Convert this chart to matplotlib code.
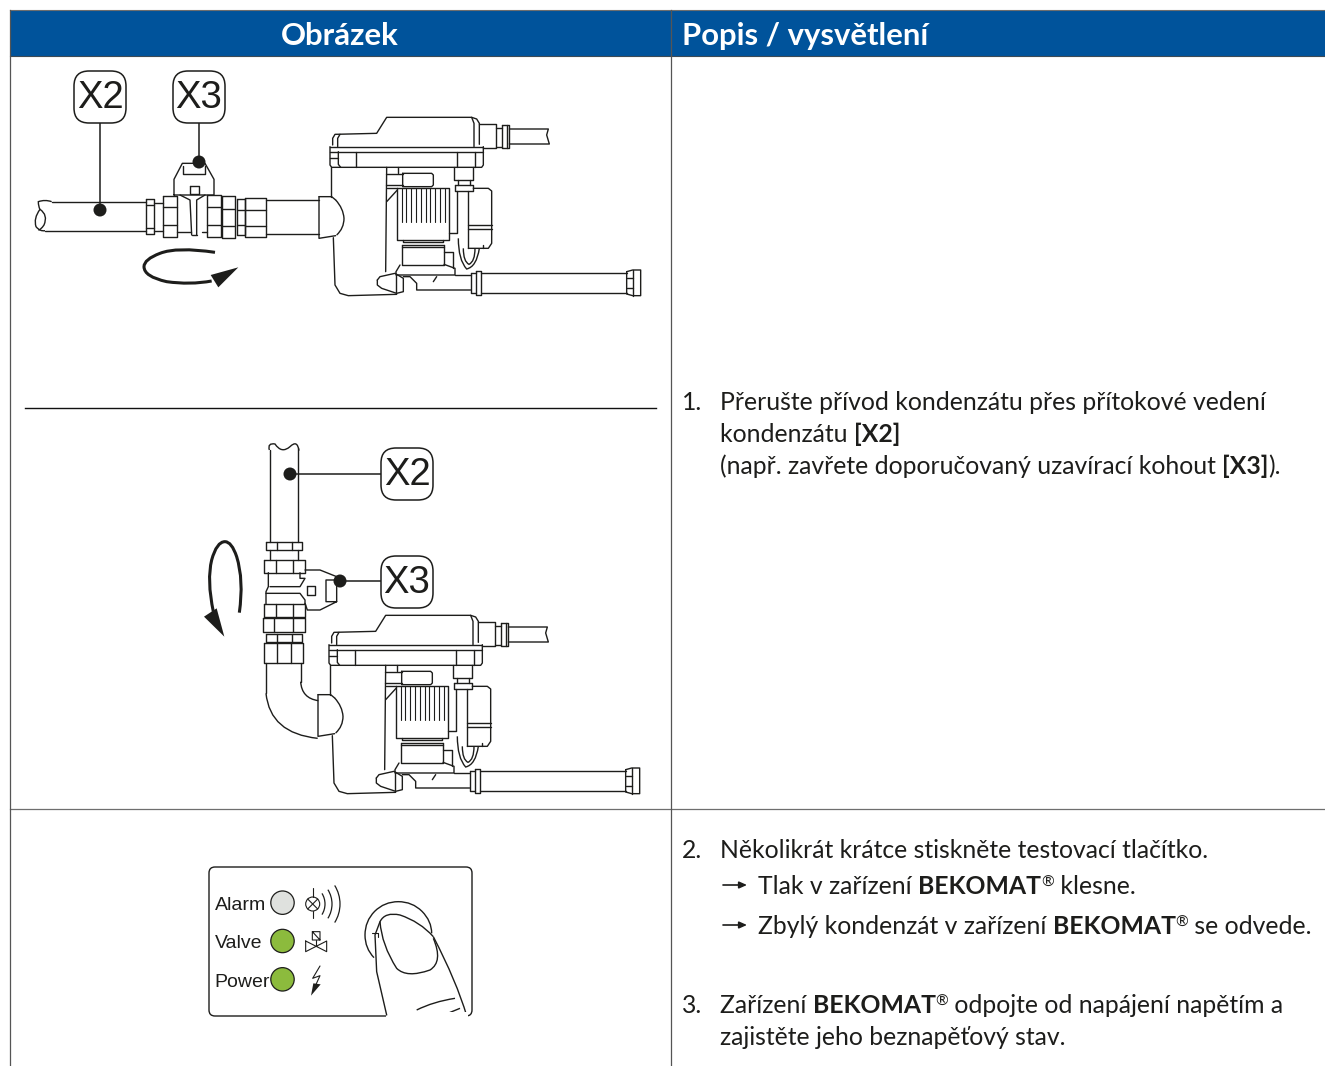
import matplotlib
matplotlib.use('Agg')
from matplotlib import pyplot as plt
from matplotlib.patches import Circle, Arc, FancyBboxPatch, Polygon, Rectangle, PathPatch
from matplotlib.path import Path

W, H = 1325, 1066
BLUE = '#00539b'
INK = '#1d1d1b'
GREEN = '#8cbb3d'
GREY_LED = '#dfe1de'
BODY_FONT = 'Lato'
BODY_SIZE = 17.85

HEADERS = ['Obrázek', 'Popis / vysvětlení']
LED_LABELS = ['Alarm', 'Valve', 'Power']
LED_COLORS = [GREY_LED, GREEN, GREEN]
LED_ROWS = [143, 258, 373]

# text runs: (x, baseline, [(string, bold), ...])
TEXT_LINES = [
	(682, 410, [('1.', False)]),
	(720, 410, [('Přerušte přívod kondenzátu přes přítokové vedení', False)]),
	(720, 442, [('kondenzátu ', False), ('[X2]', True)]),
	(720, 474, [('(např. zavřete doporučovaný uzavírací kohout ', False), ('[X3]', True), (').', False)]),
	(682, 858, [('2.', False)]),
	(720, 858, [('Několikrát krátce stiskněte testovací tlačítko.', False)]),
	(758, 894, [('Tlak v zařízení ', False), ('BEKOMAT', True), ('®', None), (' klesne.', False)]),
	(758, 934, [('Zbylý kondenzát v zařízení ', False), ('BEKOMAT', True), ('®', None), (' se odvede.', False)]),
	(682, 1013, [('3.', False)]),
	(720, 1013, [('Zařízení ', False), ('BEKOMAT', True), ('®', None), (' odpojte od napájení napětím a', False)]),
	(720, 1045, [('zajistěte jeho beznapěťový stav.', False)]),
]
ARROW_ROWS = [885, 925]

# device outline, measured in a 3x crop with origin (320, 105)
DEVICE_LINES = [
	[(38, 120), (38, 100), (45, 88), (170, 85), (200, 37), (455, 37), (470, 42), (478, 55), (478, 118)],
	[(60, 88), (53, 100), (53, 125)],
	[(455, 37), (462, 55), (462, 125)],
	[(30, 125), (490, 125)],
	[(30, 140), (490, 140)],
	[(30, 125), (30, 180), (35, 187), (485, 187), (490, 180), (490, 125)],
	[(55, 140), (55, 178), (62, 187)],
	[(465, 140), (465, 187)],
	[(107, 140), (107, 187)],
	[(410, 140), (410, 187)],
	[(30, 160), (55, 160)],
	[(478, 58), (528, 58), (528, 130), (490, 130)],
	[(528, 68), (545, 68)],
	[(528, 125), (545, 125)],
	[(545, 60), (568, 60), (568, 130), (545, 130), (545, 60)],
	[(560, 60), (560, 130)],
	[(568, 72), (685, 72), (680, 90), (688, 117), (568, 117)],
	[(32, 187), (32, 275)],
	[(-3, 275), (35, 275), (47, 285)],
	[(-3, 275), (-3, 400), (47, 392)],
	[(40, 398), (45, 540), (60, 565), (85, 572), (230, 568)],
	[(232, 248), (388, 248), (388, 405), (232, 405), (232, 248)],
	[(232, 255), (200, 290)],
	[(200, 250), (232, 250)],
	[(200, 187), (197, 500)],
	[(248, 205), (335, 205), (340, 210), (340, 240), (335, 245), (248, 245), (248, 205)],
	[(197, 207), (248, 207)],
	[(197, 240), (248, 240)],
	[(235, 187), (235, 205)],
	[(250, 405), (250, 412), (370, 412), (370, 405)],
	[(245, 420), (372, 420)],
	[(245, 425), (372, 425)],
	[(245, 420), (245, 480), (372, 480), (372, 420)],
	[(240, 480), (228, 500), (228, 510), (405, 510), (405, 490), (372, 478)],
	[(372, 440), (400, 440), (400, 490)],
	[(172, 525), (180, 515), (225, 505), (250, 520), (250, 560), (230, 565), (185, 550), (172, 540), (172, 525)],
	[(228, 510), (228, 565)],
	[(250, 515), (270, 515), (290, 535), (290, 555), (452, 555)],
	[(340, 530), (350, 515)],
	[(405, 510), (452, 510)],
	[(402, 187), (402, 225), (460, 225), (460, 187)],
	[(405, 240), (460, 240), (460, 258), (405, 258), (405, 240)],
	[(415, 225), (415, 240)],
	[(450, 225), (450, 240)],
	[(410, 258), (410, 385), (388, 385)],
	[(460, 250), (505, 250), (515, 258), (515, 415), (505, 430), (445, 430)],
	[(445, 360), (515, 360)],
	[(445, 372), (515, 372)],
	[(445, 258), (445, 430)],
	[(488, 420), (488, 430)],
	[(452, 505), (468, 505)],
	[(452, 505), (452, 565), (468, 565)],
	[(468, 497), (482, 497), (482, 570), (468, 570), (468, 497)],
	[(482, 505), (920, 505)],
	[(482, 563), (920, 563)],
	[(920, 500), (938, 495), (962, 495), (962, 572), (938, 572), (920, 567), (920, 500)],
	[(938, 495), (938, 572)],
	[(920, 520), (938, 520)],
	[(920, 550), (938, 550)],
]
DEVICE_FINS = [245, 259, 274, 288, 303, 317, 331, 346, 360, 374]
# quadratic runs: start, then control/end pairs
DEVICE_CURVES = [
	[(415, 400), (415, 465), (440, 492), (470, 485), (478, 430)],
	[(430, 430), (430, 470), (447, 478), (465, 470), (465, 430)],
	[(47, 285), (70, 310), (72, 340), (72, 370), (50, 390)],
]

# first valve group, 3x crop with origin (20, 60)
TOP_RECTS = [(378, 418, 402, 522), (430, 408, 470, 530), (510, 378, 537, 403), (562, 405, 603, 530),
	(605, 408, 645, 533), (650, 417, 675, 525), (675, 413, 738, 532)]
TOP_LINES = [
	[(95, 425), (378, 425)],
	[(75, 512), (378, 512)],
	[(378, 435), (402, 435)], [(378, 503), (402, 503)],
	[(402, 428), (430, 428)], [(402, 512), (430, 512)],
	[(430, 440), (470, 440)], [(430, 495), (470, 495)],
	[(470, 515), (512, 515)],
	[(480, 405), (510, 420), (515, 525)],
	[(555, 405), (530, 420), (530, 525)],
	[(515, 525), (530, 525)],
	[(545, 515), (562, 515)],
	[(462, 405), (462, 358), (487, 310), (555, 310), (582, 358), (582, 405), (462, 405)],
	[(490, 318), (490, 342), (555, 342), (555, 318)],
	[(562, 440), (603, 440)], [(562, 495), (603, 495)],
	[(605, 447), (645, 447)], [(605, 497), (645, 497)],
	[(650, 450), (675, 450)], [(650, 495), (675, 495)],
	[(675, 450), (738, 450)], [(675, 497), (738, 497)],
	[(738, 420), (897, 420)],
	[(738, 522), (897, 522)],
]
TOP_CURVES = [
	[(95, 425), (75, 418), (55, 425), (55, 440), (60, 448), (40, 475), (48, 500), (60, 515), (75, 512)],
	[(60, 448), (85, 465), (72, 495), (62, 510), (55, 510)],
	[(585, 577), (470, 560), (420, 580), (372, 598), (372, 620), (372, 650), (440, 665), (510, 675), (575, 663)],
]
TOP_ARROW_HEAD = [(655, 622), (595, 682), (572, 645)]

# second valve group, 3x crop with origin (190, 430)
LOW_RECTS = [(228, 337, 335, 360), (222, 390, 345, 428), (222, 522, 345, 560), (218, 565, 345, 607),
	(227, 612, 337, 637), (222, 640, 340, 700), (350, 468, 375, 495)]
LOW_LINES = [
	[(240, 60), (240, 337)],
	[(325, 55), (325, 337)],
	[(260, 337), (260, 360)], [(305, 337), (305, 360)],
	[(240, 360), (240, 390)], [(325, 360), (325, 390)],
	[(257, 390), (257, 428)], [(310, 390), (310, 428)],
	[(235, 428), (235, 470), (228, 485), (228, 522)],
	[(330, 428), (330, 445), (345, 445), (330, 470), (240, 470)],
	[(228, 490), (330, 490), (345, 510), (345, 522)],
	[(345, 420), (390, 420), (440, 440)],
	[(345, 520), (352, 540), (390, 540), (440, 515), (440, 450), (408, 450), (408, 515), (440, 515)],
	[(257, 522), (257, 560)], [(310, 522), (310, 560)],
	[(253, 565), (253, 607)], [(308, 565), (308, 607)],
	[(260, 612), (260, 637)], [(305, 612), (305, 637)],
	[(260, 640), (260, 700)], [(302, 640), (302, 700)],
	[(228, 700), (228, 790)],
	[(332, 700), (332, 755)],
]
LOW_CURVES = [
	[(238, 60), (232, 38), (255, 42), (275, 72), (300, 50), (322, 28), (327, 62)],
	[(228, 790), (240, 910), (383, 925)],
	[(332, 755), (335, 805), (385, 812)],
	[(148, 548), (162, 450), (140, 380), (125, 335), (105, 335), (80, 335), (65, 390), (50, 450), (70, 545)],
]
LOW_ARROW_HEAD = [(42, 560), (103, 620), (80, 535)]

# led panel, 3x crop with origin (200, 855)
PANEL_BUTTON_ARC = [(522, 308), (495, 280), (495, 240), (495, 198), (524, 169), (553, 140), (595, 140),
	(637, 140), (666, 169), (695, 198), (695, 235)]
FINGER_LINES = [
	[(540, 200), (525, 240), (530, 350), (560, 480)],
	[(540, 200), (555, 170), (600, 180), (660, 200), (700, 245)],
	[(700, 245), (770, 380), (800, 482)],
	[(650, 465), (700, 440), (765, 430)],
	[(725, 483), (750, 472), (780, 460)],
]
NAIL = [(540, 200), (545, 270), (590, 340), (620, 370), (690, 345), (730, 320), (700, 250)]
LAMP_ARCS = [40, 54, 70]


def crop(pts, ox, oy):
	return [(ox + x / 3, oy + y / 3) for x, y in pts]


def polyline(ax, pts, lw=1.0):
	xs, ys = zip(*pts)
	ax.plot(xs, ys, color=INK, lw=lw, solid_capstyle='round', solid_joinstyle='round')


def quad(ax, pts, lw=1.0):
	codes = [Path.MOVETO] + [Path.CURVE3] * (len(pts) - 1)
	ax.add_patch(PathPatch(Path(pts, codes), fill=False, ec=INK, lw=lw))


def draw_group(ax, ox, oy, rects=(), lines=(), curves=()):
	for x0, y0, x1, y1 in rects:
		polyline(ax, crop([(x0, y0), (x1, y0), (x1, y1), (x0, y1), (x0, y0)], ox, oy))
	for pts in lines:
		polyline(ax, crop(pts, ox, oy))
	for pts in curves:
		quad(ax, crop(pts, ox, oy))


def draw_device(ax, dx, dy):
	ox, oy = 320 + dx, 105 + dy
	draw_group(ax, ox, oy, lines=DEVICE_LINES, curves=DEVICE_CURVES)
	for x in DEVICE_FINS:
		polyline(ax, crop([(x, 248), (x, 350)], ox, oy), lw=0.8)


def badge(ax, x, y, label):
	ax.add_patch(FancyBboxPatch((x - 10, y - 10), 20, 20, boxstyle='round,pad=16,rounding_size=15', fc='white', ec=INK, lw=1.1, zorder=3))
	ax.text(x, y + 1, label, family='Liberation Sans', fontsize=27.5, color=INK, ha='center', va='center', zorder=4)


def dot(ax, x, y):
	ax.add_patch(Circle((x, y), 6.5, fc=INK, ec='none', zorder=5))


def text_runs(ax, renderer, x, y, runs):
	for s, bold in runs:
		if bold is None:
			t = ax.text(x, y - 7, s, family=BODY_FONT, fontsize=BODY_SIZE * 0.62, color=INK, va='baseline')
		else:
			t = ax.text(x, y, s, family=BODY_FONT, fontsize=BODY_SIZE, color=INK, va='baseline',
				fontweight='bold' if bold else 'normal')
		# advance width, spaces included
		w, _, _ = renderer.get_text_width_height_descent(s, t.get_fontproperties(), False)
		x += w


fig = plt.figure(figsize=(W / 100, H / 100), dpi=100)
ax = fig.add_axes([0, 0, 1, 1])
ax.set_xlim(0, W)
ax.set_ylim(H, 0)
ax.axis('off')
renderer = fig.canvas.get_renderer()

# table frame
ax.add_patch(Rectangle((10, 10), W - 10, 45.5, fc=BLUE, ec='none'))
ax.plot([10, W], [10, 10], color='#6e6e6e', lw=0.8)
ax.plot([10, W], [55.5, 55.5], color='#3c4a55', lw=0.8)
ax.plot([10, W], [808.5, 808.5], color='#6e6e6e', lw=0.9)
ax.plot([10, 10], [10, H], color='#555555', lw=0.9)
ax.plot([671, 671], [10, H], color='#555555', lw=0.9)
ax.plot([25, 656], [407.5, 407.5], color='#111111', lw=1.0)
ax.text(340, 45, HEADERS[0], family='Lato', fontweight='bold', fontsize=22.4, color='white', ha='center', va='baseline')
ax.text(682, 45, HEADERS[1], family='Lato', fontweight='bold', fontsize=22.3, color='white', va='baseline')

# upper drawing
draw_device(ax, 0, 0)
draw_group(ax, 20, 60, TOP_RECTS, TOP_LINES, TOP_CURVES[:2])
quad(ax, crop(TOP_CURVES[2], 20, 60), lw=2.2)
ax.add_patch(Polygon(crop(TOP_ARROW_HEAD, 20, 60), fc=INK, ec='none'))
polyline(ax, [(100, 120), (100, 210)], lw=1.1)
polyline(ax, [(199, 120), (199, 162)], lw=1.1)
dot(ax, 100, 210)
dot(ax, 199, 162)
badge(ax, 100, 97, 'X2')
badge(ax, 199, 97, 'X3')

# lower drawing
draw_device(ax, -1, 498)
draw_group(ax, 190, 430, LOW_RECTS, LOW_LINES, LOW_CURVES[:3])
quad(ax, crop(LOW_CURVES[3], 190, 430), lw=2.2)
ax.add_patch(Polygon(crop(LOW_ARROW_HEAD, 190, 430), fc=INK, ec='none'))
polyline(ax, [(290, 474), (382, 474)], lw=1.1)
polyline(ax, [(340, 581), (382, 581)], lw=1.1)
dot(ax, 290, 474)
dot(ax, 340, 581)
badge(ax, 407, 474, 'X2')
badge(ax, 407, 582, 'X3')

# led panel
ax.add_patch(FancyBboxPatch((214, 872), 253, 139, boxstyle='round,pad=5,rounding_size=6', fc='white', ec=INK, lw=1.0))
ax.add_patch(Rectangle((386, 1012), 82, 8, fc='white', ec='none', zorder=2))
for label, col, row in zip(LED_LABELS, LED_COLORS, LED_ROWS):
	cy = 855 + row / 3
	ax.add_patch(Circle((282.5, cy), 11.7, fc=col, ec=INK, lw=0.9))
	ax.text(214.5, cy + 3, label, family='Liberation Sans', fontsize=14, color=INK, va='center')

# symbols
ax.add_patch(Circle((312.7, 904), 7, fc='none', ec=INK, lw=0.8))
polyline(ax, [(312.7, 888), (312.7, 897)], lw=0.8)
polyline(ax, [(312.7, 911), (312.7, 918)], lw=0.8)
polyline(ax, [(307.7, 899), (317.7, 909)], lw=0.8)
polyline(ax, [(307.7, 909), (317.7, 899)], lw=0.8)
for d in LAMP_ARCS:
	ax.add_patch(Arc((305, 904), d, d, theta1=-32, theta2=32, ec=INK, lw=0.9))
polyline(ax, crop([(337, 230), (360, 230), (360, 255), (337, 255), (337, 230), (360, 255)], 200, 855), lw=0.8)
polyline(ax, crop([(348, 255), (348, 272)], 200, 855), lw=0.8)
polyline(ax, crop([(317, 258), (380, 290), (380, 258), (317, 290), (317, 258)], 200, 855), lw=0.8)
polyline(ax, crop([(360, 333), (338, 370), (360, 362), (345, 395)], 200, 855), lw=0.8)
ax.add_patch(Polygon(crop([(333, 422), (362, 388), (340, 385)], 200, 855), fc=INK, ec='none'))

# button and finger
quad(ax, crop(PANEL_BUTTON_ARC, 200, 855))
polyline(ax, crop([(515, 235), (533, 235), (533, 245)], 200, 855), lw=0.8)
for pts in FINGER_LINES:
	quad(ax, crop(pts, 200, 855)) if len(pts) % 2 == 1 else polyline(ax, crop(pts, 200, 855))
quad(ax, crop(NAIL, 200, 855))

# right column text
for x, y, runs in TEXT_LINES:
	text_runs(ax, renderer, x, y, runs)
for y in ARROW_ROWS:
	ax.annotate('', xy=(747, y), xytext=(723, y),
		arrowprops=dict(arrowstyle='-|>,head_length=0.45,head_width=0.2', color=INK, lw=1.2, shrinkA=0, shrinkB=0))

fig.savefig('out.png', dpi=100)
